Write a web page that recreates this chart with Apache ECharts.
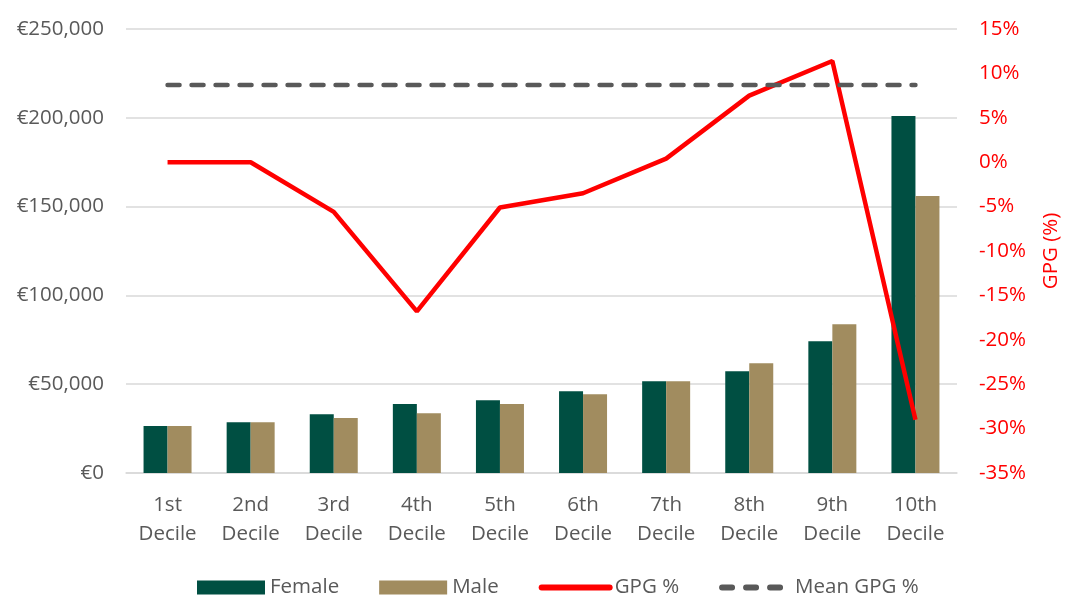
<!DOCTYPE html>
<html>
<head>
<meta charset="utf-8">
<script src="https://cdn.jsdelivr.net/npm/echarts@6/dist/echarts.min.js"></script>
<style>
  html, body { margin: 0; padding: 0; background: #fff; }
  #main { width: 1067px; height: 597px; }
</style>
</head>
<body>
<div id="main"></div>
<script>
var deciles = ['1st\nDecile', '2nd\nDecile', '3rd\nDecile', '4th\nDecile', '5th\nDecile',
               '6th\nDecile', '7th\nDecile', '8th\nDecile', '9th\nDecile', '10th\nDecile'];
var female = [26400, 28600, 33100, 38800, 41000, 46000, 51700, 57300, 74200, 201000];
var male = [26400, 28600, 30900, 33700, 38800, 44400, 51700, 61800, 83700, 156000];
var gpg = [0, 0, -5.6, -16.8, -5.1, -3.5, 0.4, 7.5, 11.4, -29];
var meanGpg = [8.7, 8.7, 8.7, 8.7, 8.7, 8.7, 8.7, 8.7, 8.7, 8.7];

var font = 'Open Sans';
var grey = '#595959';
var fs = 20.5;

var myChart = echarts.init(document.getElementById('main'));
option = {
  textStyle: { fontFamily: font },
  grid: { left: 126, right: 110, top: 29, bottom: 124, outerBoundsMode: 'none' },
  legend: {
    top: 572,
    left: 192,
    itemWidth: 68,
    itemHeight: 14,
    itemGap: 40,
    textStyle: { color: grey, fontSize: fs, fontFamily: font },
    data: [
      { name: 'Female', icon: 'rect' },
      { name: 'Male', icon: 'rect' },
      { name: 'GPG %', itemStyle: { opacity: 0 }, lineStyle: { width: 6, cap: 'round' } },
      { name: 'Mean GPG %', itemStyle: { opacity: 0 }, lineStyle: { width: 6, cap: 'round', type: [10, 14] } }
    ]
  },
  xAxis: {
    type: 'category',
    data: deciles,
    axisTick: { show: false },
    axisLine: { lineStyle: { color: '#D9D9D9', width: 1.5 } },
    axisLabel: { color: grey, fontSize: fs, lineHeight: 29, margin: 18 }
  },
  yAxis: [
    {
      type: 'value',
      min: 0,
      max: 250000,
      interval: 50000,
      axisLabel: {
        color: grey,
        fontSize: fs,
        margin: 22,
        formatter: function (v) { return '€' + v.toLocaleString('en-US'); }
      },
      splitLine: { lineStyle: { color: '#D9D9D9', width: 1.5 } }
    },
    {
      type: 'value',
      min: -35,
      max: 15,
      interval: 5,
      position: 'right',
      name: 'GPG (%)',
      nameLocation: 'middle',
      nameRotate: 90,
      nameGap: 84,
      nameTextStyle: { color: '#FF0000', fontSize: fs },
      axisLabel: {
        color: '#FF0000',
        fontSize: fs,
        margin: 22,
        formatter: function (v) { return v + '%'; }
      },
      splitLine: { show: false }
    }
  ],
  series: [
    {
      name: 'Female',
      type: 'bar',
      data: female,
      barWidth: 24,
      barGap: '0%',
      itemStyle: { color: '#004F42' }
    },
    {
      name: 'Male',
      type: 'bar',
      data: male,
      barWidth: 24,
      barGap: '0%',
      itemStyle: { color: '#A18C5F' }
    },
    {
      name: 'GPG %',
      type: 'line',
      yAxisIndex: 1,
      data: gpg,
      symbol: 'none',
      lineStyle: { color: '#FF0000', width: 4.5 },
      itemStyle: { color: '#FF0000' }
    },
    {
      name: 'Mean GPG %',
      type: 'line',
      yAxisIndex: 1,
      data: meanGpg,
      symbol: 'none',
      lineStyle: { color: grey, width: 4.5, type: [12, 12], cap: 'round' },
      itemStyle: { color: grey }
    }
  ]
};

myChart.setOption(option);
</script>
</body>
</html>
